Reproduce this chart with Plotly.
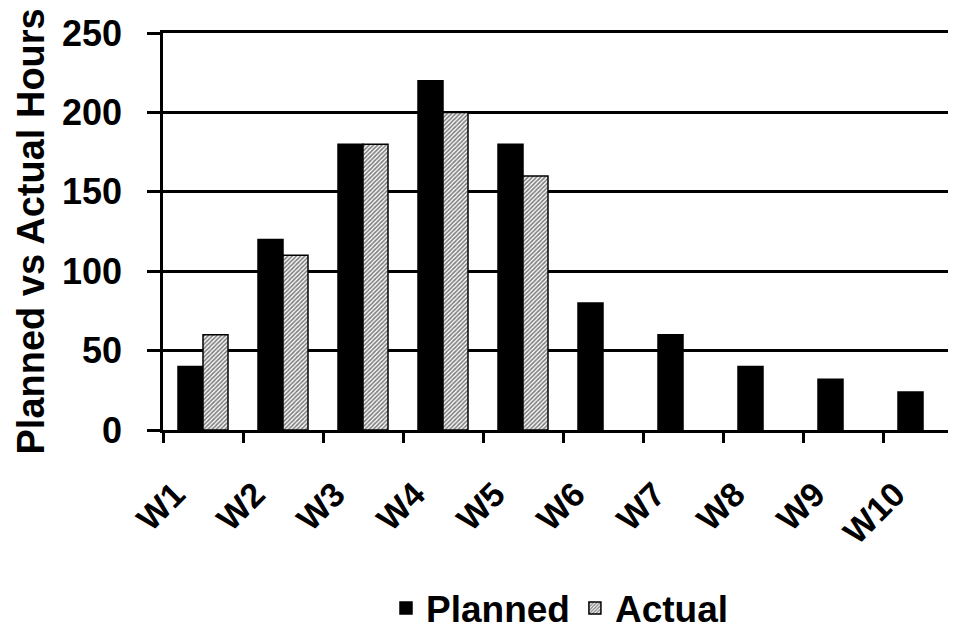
import plotly.graph_objects as go

weeks = ["W1", "W2", "W3", "W4", "W5", "W6", "W7", "W8", "W9", "W10"]
planned = [40, 120, 180, 220, 180, 80, 60, 40, 32, 24]
actual = [60, 110, 180, 200, 160, None, None, None, None, None]
y_title = "Planned vs Actual Hours"

font_family = "Liberation Sans, Arial, sans-serif"

fig = go.Figure()
fig.add_trace(go.Bar(
    x=weeks, y=planned, name="Planned",
    marker=dict(color="black", line=dict(color="black", width=1.5)),
))
fig.add_trace(go.Bar(
    x=weeks, y=actual, name="Actual",
    marker=dict(color="white", line=dict(color="black", width=1.5),
                pattern=dict(shape="/", fgcolor="black", bgcolor="white",
                             size=3, solidity=0.55)),
))

fig.update_layout(
    width=956, height=632,
    barmode="group", bargap=0.375, bargroupgap=0,
    plot_bgcolor="white", paper_bgcolor="white",
    margin=dict(l=155, r=8, t=25, b=210, autoexpand=False),
    font=dict(family=font_family, size=35, color="black"),
    showlegend=True,
    legend=dict(orientation="h", x=0.5, xanchor="center", xref="paper",
                y=0.05, yanchor="middle", yref="container",
                font=dict(size=37, family=font_family, weight="bold"),
                itemwidth=30, tracegroupgap=0),
    xaxis=dict(
        range=[-0.5, 9.4125], tickangle=-45, tickson="boundaries",
        ticks="outside", ticklen=10, tickwidth=2.5, tickcolor="black",
        showline=True, linecolor="black", linewidth=2.5, mirror=True,
        tickfont=dict(size=34, family=font_family, weight="bold"),
        showgrid=False, automargin=False, ticklabelstandoff=28,
        ticklabelshift=-28,
    ),
    yaxis=dict(
        range=[0, 250], dtick=50, tick0=0,
        ticks="outside", ticklen=13, tickwidth=2.5, tickcolor="black",
        showline=True, linecolor="black", linewidth=2.5,
        showgrid=True, gridcolor="black", gridwidth=2.5,
        zeroline=False, automargin=False, ticklabelstandoff=18,
        tickfont=dict(size=36, family=font_family, weight="bold"),
    ),
    annotations=[dict(
        text=y_title, xref="paper", yref="paper", x=-133/793, y=0.5,
        xanchor="center", yanchor="middle", textangle=-90, showarrow=False,
        font=dict(size=38, family=font_family, weight="bold", color="black"),
    )],
)

fig.write_html("out.html")
